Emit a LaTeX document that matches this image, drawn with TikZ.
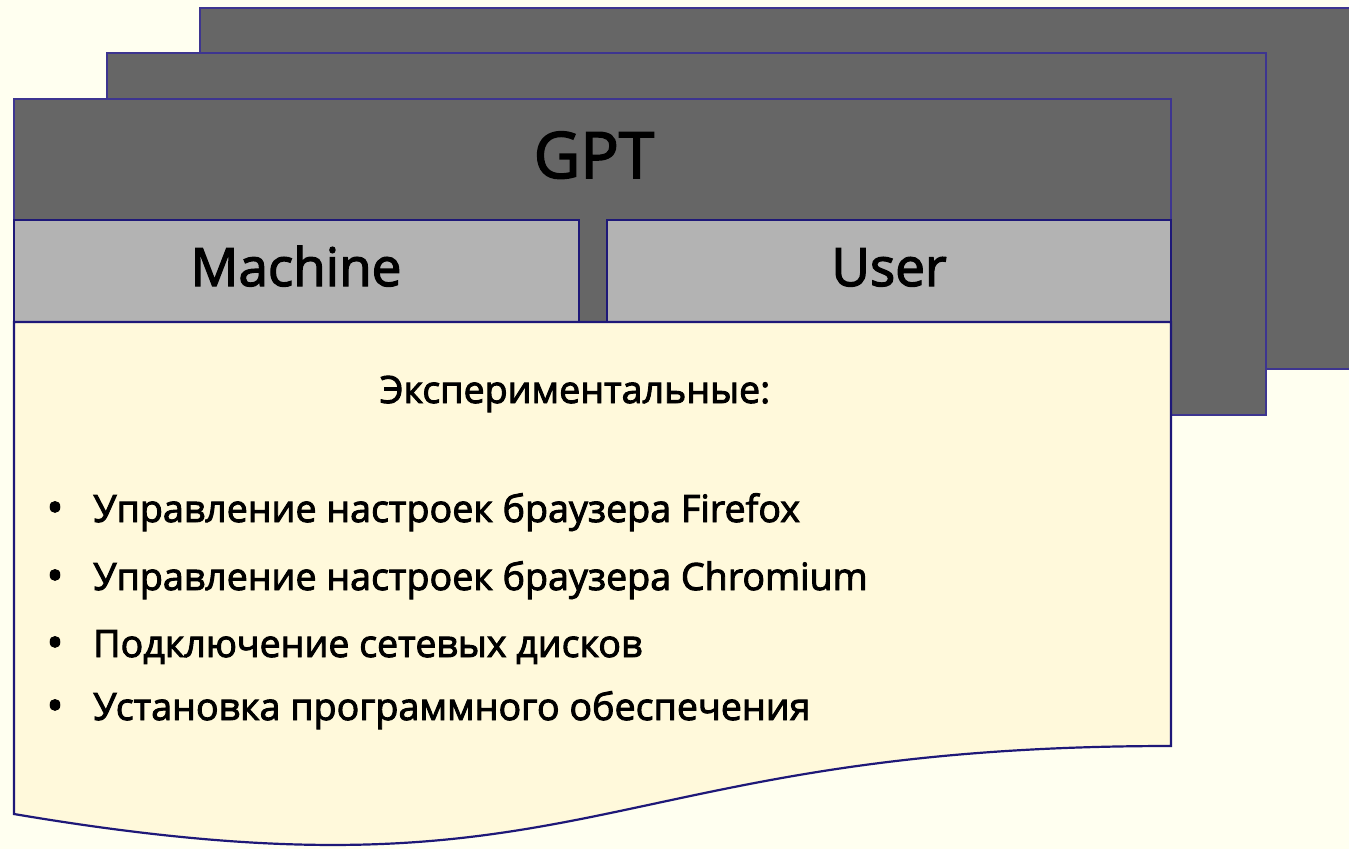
\documentclass[tikz,border=0pt]{standalone}
\usepackage{fontspec}
\setmainfont{Open Sans}
\newfontfamily\heavyfont[FakeBold=2.5]{Open Sans}
\definecolor{bgc}{HTML}{FFFFF0}
\definecolor{darkp}{HTML}{666666}
\definecolor{lightp}{HTML}{B3B3B3}
\definecolor{bodyc}{HTML}{FFF9DB}
\definecolor{edgec}{HTML}{1E1878}
\definecolor{edgeb}{HTML}{3D3590}
\tikzset{
  backpanel/.style={fill=darkp, draw=edgeb, line width=2.2pt},
  frontedge/.style={draw=edgec, line width=2.2pt},
  txt/.style={inner sep=0pt, anchor=base, text=black},
  bigtxt/.style={txt, font=\heavyfont\fontsize{64}{76}\selectfont},
  midtxt/.style={txt, font=\heavyfont\fontsize{53}{64}\selectfont},
  smalltxt/.style={txt, font=\heavyfont\fontsize{37.6}{45}\selectfont},
  bullettxt/.style={txt, font=\heavyfont\fontsize{44}{50}\selectfont},
}
\begin{document}
\begin{tikzpicture}[x=1pt,y=-1pt]
\useasboundingbox (0,0) rectangle (1349,849);
\fill[bgc] (0,0) rectangle (1349,849);
\clip (0,0) rectangle (1349,849);
% back panels
\draw[backpanel] (200,8) rectangle (1370,369);
\draw[backpanel] (107,53) rectangle (1266,415);
\draw[backpanel] (14,99) rectangle (1171,525);
% header boxes
\draw[frontedge, fill=lightp] (14,220) rectangle (579,322);
\draw[frontedge, fill=lightp] (607,220) rectangle (1171,322);
% document body
\draw[frontedge, fill=bodyc] (14,322) -- (1171,322) -- (1171,746)
  .. controls (592,746) and (592,912) .. (14,814) -- cycle;
% texts
\node[bigtxt] (gpt) at (594,178) {GPT};
\node[midtxt] (machine) at (296,286) {Machine};
\node[midtxt] (user) at (889,286) {User};
\node[smalltxt] (head) at (575,403) {Экспериментальные:};
\node[bullettxt] (b1) at (55,523) {•};
\node[bullettxt] (b2) at (55,591) {•};
\node[bullettxt] (b3) at (55,658) {•};
\node[bullettxt] (b4) at (55,721) {•};
\node[smalltxt, anchor=base west] (t1) at (93,522) {Управление настроек браузера Firefox};
\node[smalltxt, anchor=base west] (t2) at (93,590) {Управление настроек браузера Chromium};
\node[smalltxt, anchor=base west] (t3) at (93,657) {Подключение сетевых дисков};
\node[smalltxt, anchor=base west] (t4) at (93,720) {Установка программного обеспечения};
\end{tikzpicture}
\end{document}
